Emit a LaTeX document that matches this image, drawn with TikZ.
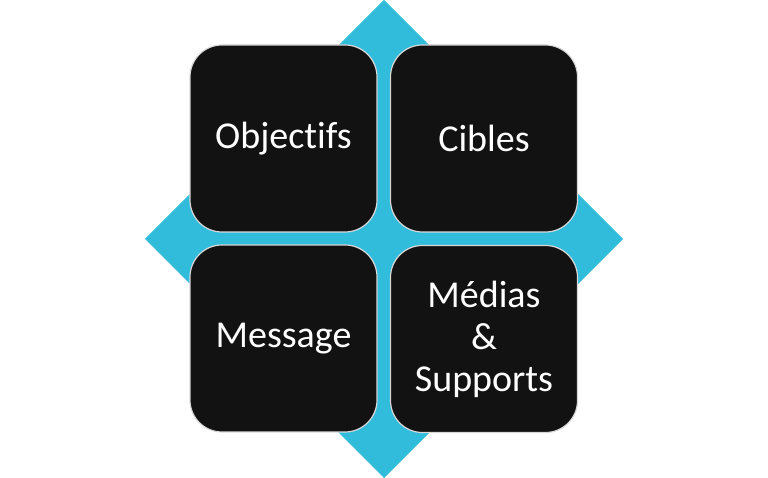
\documentclass[tikz,border=0pt]{standalone}
\usepackage{fontspec}
\setmainfont[Ligatures=NoCommon]{Carlito}
\definecolor{diam}{HTML}{31BCDC}
\definecolor{boxfill}{HTML}{121212}
\definecolor{boxline}{HTML}{D8D8D8}
\begin{document}
\begin{tikzpicture}[x=1pt,y=1pt,
  card/.style={draw=boxline, line width=1.2pt, fill=boxfill, rounded corners=32pt,
    minimum width=187pt, minimum height=187pt, inner sep=0pt, text=white,
    font=\fontsize{38}{42}\selectfont, align=center}]
\useasboundingbox (0,0) rectangle (768,478);
\fill[diam] (384,478) -- (623,239) -- (384,0) -- (145,239) -- cycle;
\node[card] (obj) at (283.5,339.5) {Object\kern0pt ifs};
\node[card] (cib) at (484,339.5) {Cibles};
\node[card] (mes) at (283.5,139.5) {Message};
\node[card] (med) at (484,139) {Médias\\\&\\Supports};
\end{tikzpicture}
\end{document}
